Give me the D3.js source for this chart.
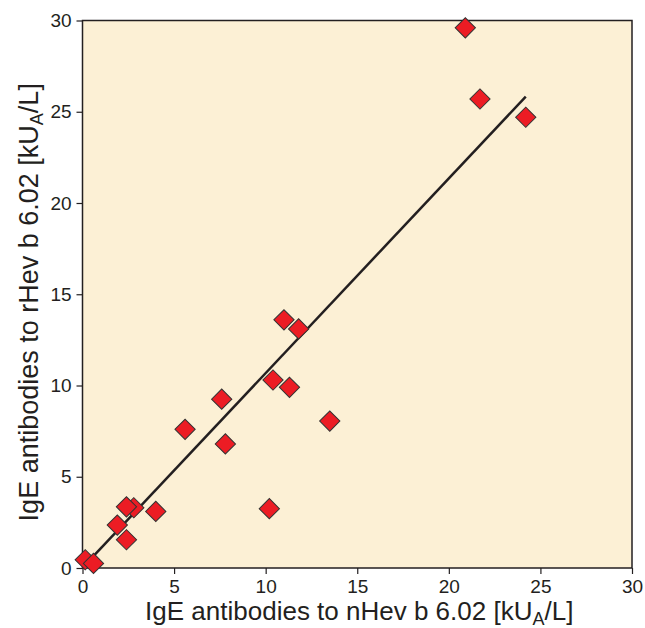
<!DOCTYPE html>
<html>
<head>
<meta charset="utf-8">
<script src="https://cdn.jsdelivr.net/npm/d3@7"></script>
<style>
    body { margin: 0; background: #fff; }
    text { font-family: "Liberation Sans", Arial, sans-serif; fill: #231f20; }
</style>
</head>
<body>
<div id="chart"></div>
<script>
// measured values (nHev b 6.02 vs rHev b 6.02)
let xValues = [20.9, 21.7, 24.2, 11.0, 11.8, 10.4, 11.3, 7.6, 13.5, 5.6, 7.8, 10.2, 4.0, 2.8, 2.4, 1.9, 2.4, 0.15, 0.6];
let yValues = [29.6, 25.7, 24.7, 13.6, 13.1, 10.3, 9.9, 9.25, 8.05, 7.6, 6.8, 3.25, 3.1, 3.3, 3.35, 2.35, 1.55, 0.45, 0.25];

let xTicks = [0, 5, 10, 15, 20, 25, 30];
let yTicks = [0, 5, 10, 15, 20, 25, 30];

// regression line
let fitRange = [0.3, 24.2];
let fitSlope = 1.067;
let fitIntercept = 0.01;

let margin = {top: 20.5, right: 13, bottom: 60, left: 82.5};
let width = 645 - margin.left - margin.right;
let height = 628 - margin.top - margin.bottom;

let svg = d3.select("#chart").append("svg")
    .attr("width", 645)
    .attr("height", 628)
    .append("g")
    .attr("transform", `translate(${margin.left}, ${margin.top})`);

let x = d3.scaleLinear().domain([0, 30]).range([0, width]);
let y = d3.scaleLinear().domain([0, 30]).range([height, 0]);

// background
svg.append("rect")
    .attr("width", width)
    .attr("height", height)
    .attr("fill", "#fcf0d5");

// axes
let xAxis = d3.axisBottom(x).tickValues(xTicks).tickSize(6).tickSizeOuter(0);
let yAxis = d3.axisLeft(y).tickValues(yTicks).tickSize(6).tickSizeOuter(0);

let gx = svg.append("g")
    .attr("transform", `translate(0, ${height})`)
    .call(xAxis);
let gy = svg.append("g").call(yAxis);

[gx, gy].forEach(g => {
    g.select(".domain").remove();
    g.selectAll(".tick line").attr("stroke", "#231f20").attr("stroke-width", 1.2);
    g.selectAll(".tick text").attr("font-size", 19).attr("fill", "#231f20");
});
gx.selectAll(".tick text").attr("dy", "0.85em");
gy.selectAll(".tick text").attr("dx", "-0.1em");

// frame
svg.append("rect")
    .attr("width", width)
    .attr("height", height)
    .attr("fill", "none")
    .attr("stroke", "#231f20")
    .attr("stroke-width", 1.5);

// fit line
svg.append("line")
    .attr("x1", x(fitRange[0]))
    .attr("y1", y(fitSlope * fitRange[0] + fitIntercept))
    .attr("x2", x(fitRange[1]))
    .attr("y2", y(fitSlope * fitRange[1] + fitIntercept))
    .attr("stroke", "#231f20")
    .attr("stroke-width", 2.5);

// points
let points = xValues.map((d, i) => ({x: d, y: yValues[i]}));
let diamond = d3.symbol().type(d3.symbolSquare).size(205);

svg.selectAll(".pt")
    .data(points)
    .enter()
    .append("path")
    .attr("class", "pt")
    .attr("d", diamond)
    .attr("transform", d => `translate(${x(d.x)}, ${y(d.y)}) rotate(45)`)
    .attr("fill", "#ec1c24")
    .attr("stroke", "#333")
    .attr("stroke-width", 1);

// axis titles
let xt = svg.append("text")
    .attr("x", width / 2 + 2)
    .attr("y", height + 52)
    .attr("text-anchor", "middle")
    .attr("font-size", 26);
xt.append("tspan").text("IgE antibodies to nHev b 6.02 [kU");
xt.append("tspan").attr("font-size", 18).attr("dy", 5).text("A");
xt.append("tspan").attr("dy", -5).text("/L]");

let yt = svg.append("text")
    .attr("transform", `translate(${-45}, ${height / 2 + 8}) rotate(-90)`)
    .attr("text-anchor", "middle")
    .attr("font-size", 27);
yt.append("tspan").text("IgE antibodies to rHev b 6.02 [kU");
yt.append("tspan").attr("font-size", 18).attr("dy", 5).text("A");
yt.append("tspan").attr("dy", -5).text("/L]");
</script>
</body>
</html>
